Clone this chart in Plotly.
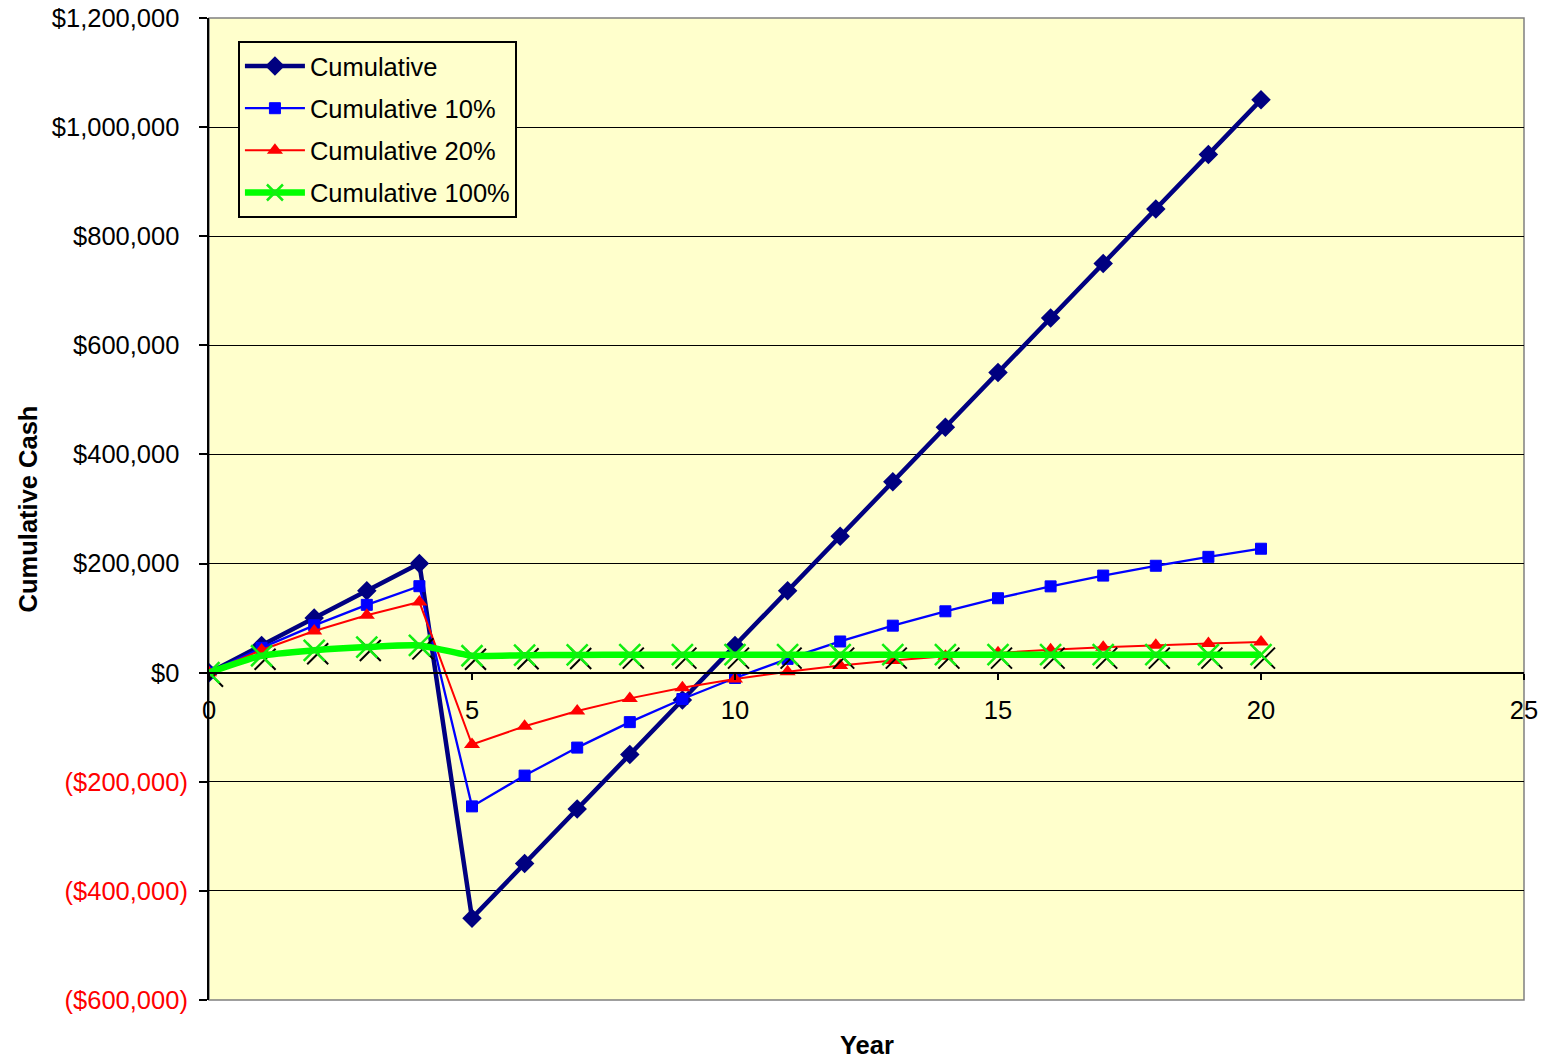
import plotly.graph_objects as go

# Year axis
years = list(range(0, 21))

# Cumulative cash, undiscounted and discounted at 10%, 20% and 100%
cumulative = [0, 50000, 100000, 150000, 200000, -450000, -350000, -250000, -150000,
              -50000, 50000, 150000, 250000, 350000, 450000, 550000, 650000, 750000,
              850000, 950000, 1050000]
cumulative_10 = [0, 45455, 86777, 124343, 158493, -245105, -188658, -137343, -90693,
                 -48284, -9730, 25318, 57180, 86146, 112479, 136418, 158181, 177965,
                 195951, 212302, 227166]
cumulative_20 = [0, 41667, 76389, 105324, 129437, -131783, -98293, -70385, -47128,
                 -27747, -11597, 1862, 13077, 22424, 30213, 36703, 42112, 46620,
                 50376, 53506, 56115]
cumulative_100 = [0, 31000, 41000, 47000, 50000, 31000, 32000, 32500, 33000, 33000,
                  33000, 33000, 33000, 33000, 33000, 33000, 33000, 33000, 33000,
                  33000, 33000]

# Axis ticks
y_ticks = [-600000, -400000, -200000, 0, 200000, 400000, 600000, 800000, 1000000, 1200000]
y_labels = ["($600,000)", "($400,000)", "($200,000)", "$0", "$200,000", "$400,000",
            "$600,000", "$800,000", "$1,000,000", "$1,200,000"]
x_ticks = [0, 5, 10, 15, 20, 25]

FONT = "Liberation Sans, Arial, sans-serif"
FS = 25.5
Y_MIN, Y_MAX = -600000, 1200000
X_MIN, X_MAX = 0, 25

fig = go.Figure()

fig.add_trace(go.Scatter(
    x=years, y=cumulative, name="Cumulative", mode="lines+markers", legendgroup="a",
    line=dict(color="#000080", width=4.5),
    marker=dict(symbol="diamond", size=15, color="#000080"),
))
fig.add_trace(go.Scatter(
    x=years, y=cumulative_10, name="Cumulative 10%", mode="lines+markers", legendgroup="b",
    line=dict(color="#0000FF", width=2.3),
    marker=dict(symbol="square", size=11, color="#0000FF",
                line=dict(color="#0000FF", width=1)),
))
fig.add_trace(go.Scatter(
    x=years, y=cumulative_20, name="Cumulative 20%", mode="lines+markers", legendgroup="c",
    line=dict(color="#FF0000", width=2),
    marker=dict(symbol="triangle-up", size=14, color="#FF0000"),
))
# dark drop shadow under the 100% crosses, drawn on slightly shifted overlay axes
fig.add_trace(go.Scatter(
    x=years, y=cumulative_100, mode="markers", showlegend=False, hoverinfo="skip",
    marker=dict(symbol="x-thin", size=21, color="#000000",
                line=dict(color="#000000", width=2)),
    xaxis="x2", yaxis="y2",
))
fig.add_trace(go.Scatter(
    x=years, y=cumulative_100, name="Cumulative 100%", mode="lines+markers",
    legendgroup="d", xaxis="x3", yaxis="y3",
    line=dict(color="#00FF00", width=6.5, shape="spline", smoothing=0.6),
    marker=dict(symbol="x-thin", size=21, color="#11EE11",
                line=dict(color="#11EE11", width=2.5)),
))

# negatives in red parentheses; positives keep a blank slot for the ")"
tick_text = []
for v, t in zip(y_ticks, y_labels):
    if v < 0:
        tick_text.append(f"<span style='color:#FF0000'>{t}</span>")
    else:
        tick_text.append(f"{t}<span style='color:rgba(0,0,0,0)'>)</span>")

plot_w = 1542 - 209 - 18
plot_h = 1061 - 18 - 61
dx = 3.5 * (X_MAX - X_MIN) / plot_w
dy = 3.5 * (Y_MAX - Y_MIN) / plot_h

fig.update_layout(
    width=1542, height=1061,
    margin=dict(l=209, r=18, t=18, b=61, autoexpand=False),
    paper_bgcolor="white", plot_bgcolor="#FFFFCC",
    font=dict(family=FONT, size=FS, color="black"),
    showlegend=True,
    legend=dict(
        x=0.022, y=0.9766, xanchor="left", yanchor="top",
        bgcolor="#FFFFCC", bordercolor="black", borderwidth=2,
        font=dict(family=FONT, size=FS, color="black"),
        itemwidth=60, tracegroupgap=6,
    ),
    xaxis=dict(
        range=[X_MIN, X_MAX], tickvals=x_ticks, ticktext=[str(v) for v in x_ticks],
        showgrid=False, zeroline=False, automargin=False,
        showline=True, linecolor="black", linewidth=2,
        ticks="outside", ticklen=6, tickwidth=2, tickcolor="black",
        anchor="free", position=(0 - Y_MIN) / (Y_MAX - Y_MIN),
        tickfont=dict(family=FONT, size=FS, color="black"),
        ticklabelstandoff=9,
    ),
    yaxis=dict(
        range=[Y_MIN, Y_MAX], tickvals=y_ticks, ticktext=tick_text,
        showgrid=True, gridcolor="black", gridwidth=1, zeroline=False, automargin=False,
        showline=True, linecolor="black", linewidth=2,
        ticks="outside", ticklen=8, tickwidth=2, tickcolor="black",
        tickfont=dict(family=FONT, size=FS, color="black"),
        ticklabelstandoff=6,
        title=dict(text="<b>Cumulative Cash</b>", font=dict(family=FONT, size=FS),
                   standoff=7),
    ),
    xaxis2=dict(range=[X_MIN - dx, X_MAX - dx], overlaying="x", visible=False,
                anchor="y2"),
    yaxis2=dict(range=[Y_MIN + dy, Y_MAX + dy], overlaying="y", visible=False,
                anchor="x2"),
    xaxis3=dict(range=[X_MIN, X_MAX], overlaying="x", visible=False, anchor="y3"),
    yaxis3=dict(range=[Y_MIN, Y_MAX], overlaying="y", visible=False, anchor="x3"),
    shapes=[dict(type="rect", xref="paper", yref="paper", x0=0, x1=1, y0=0, y1=1,
                 line=dict(color="#808080", width=1.5), layer="between")],
    annotations=[dict(text="<b>Year</b>", xref="paper", yref="paper", x=0.5, y=0,
                      yshift=-45, xanchor="center", yanchor="middle", showarrow=False,
                      font=dict(family=FONT, size=FS, color="black"))],
)

fig.write_html("out.html")
